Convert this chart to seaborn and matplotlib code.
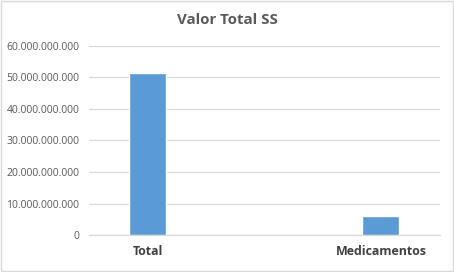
import matplotlib
matplotlib.use("Agg")
import matplotlib.pyplot as plt
import seaborn as sns
import pandas as pd
from matplotlib.ticker import FuncFormatter, MultipleLocator

categories = ["Total", "Medicamentos"]
values = [51_400_000_000, 6_000_000_000]
title = "Valor Total SS"

df = pd.DataFrame({"cat": categories, "val": values})

sns.set_theme(style="white")
plt.rcParams["font.family"] = ["Open Sans", "DejaVu Sans"]

fig = plt.figure(figsize=(4.54, 2.72), dpi=100)
ax = fig.add_axes([0.196, 0.136, 0.773, 0.695])

sns.barplot(data=df, x="cat", y="val", color="#5b9bd5", saturation=1,
            width=0.159, ax=ax, zorder=3)

ax.set_xlim(-0.253, 1.253)
ax.set_ylim(0, 60_000_000_000)
ax.yaxis.set_major_locator(MultipleLocator(10_000_000_000))
ax.yaxis.set_major_formatter(FuncFormatter(lambda v, p: f"{int(round(v)):,}".replace(",", ".")))
ax.grid(axis="y", color="#d9d9d9", linewidth=0.9, zorder=0)
ax.set_axisbelow(True)
for s in ["top", "right", "left"]:
    ax.spines[s].set_visible(False)
ax.spines["bottom"].set_color("#d9d9d9")
ax.spines["bottom"].set_linewidth(0.9)
ax.set_xlabel("")
ax.set_ylabel("")
ax.tick_params(axis="y", length=0, pad=7, labelsize=7.5, labelcolor="#595959")
ax.tick_params(axis="x", length=0, pad=7, labelsize=8.9, labelcolor="#404040")
for lab in ax.get_xticklabels():
    lab.set_fontweight("bold")

fig.text(0.5, 0.925, title, ha="center", va="center", fontsize=10.8,
         fontweight="bold", color="#595959")

fig.patches.append(plt.Rectangle((0.002, 0.002), 0.996, 0.996, transform=fig.transFigure,
                                 fill=False, edgecolor="#d9d9d9", linewidth=1))

fig.savefig("out.png", dpi=100, facecolor="white")
